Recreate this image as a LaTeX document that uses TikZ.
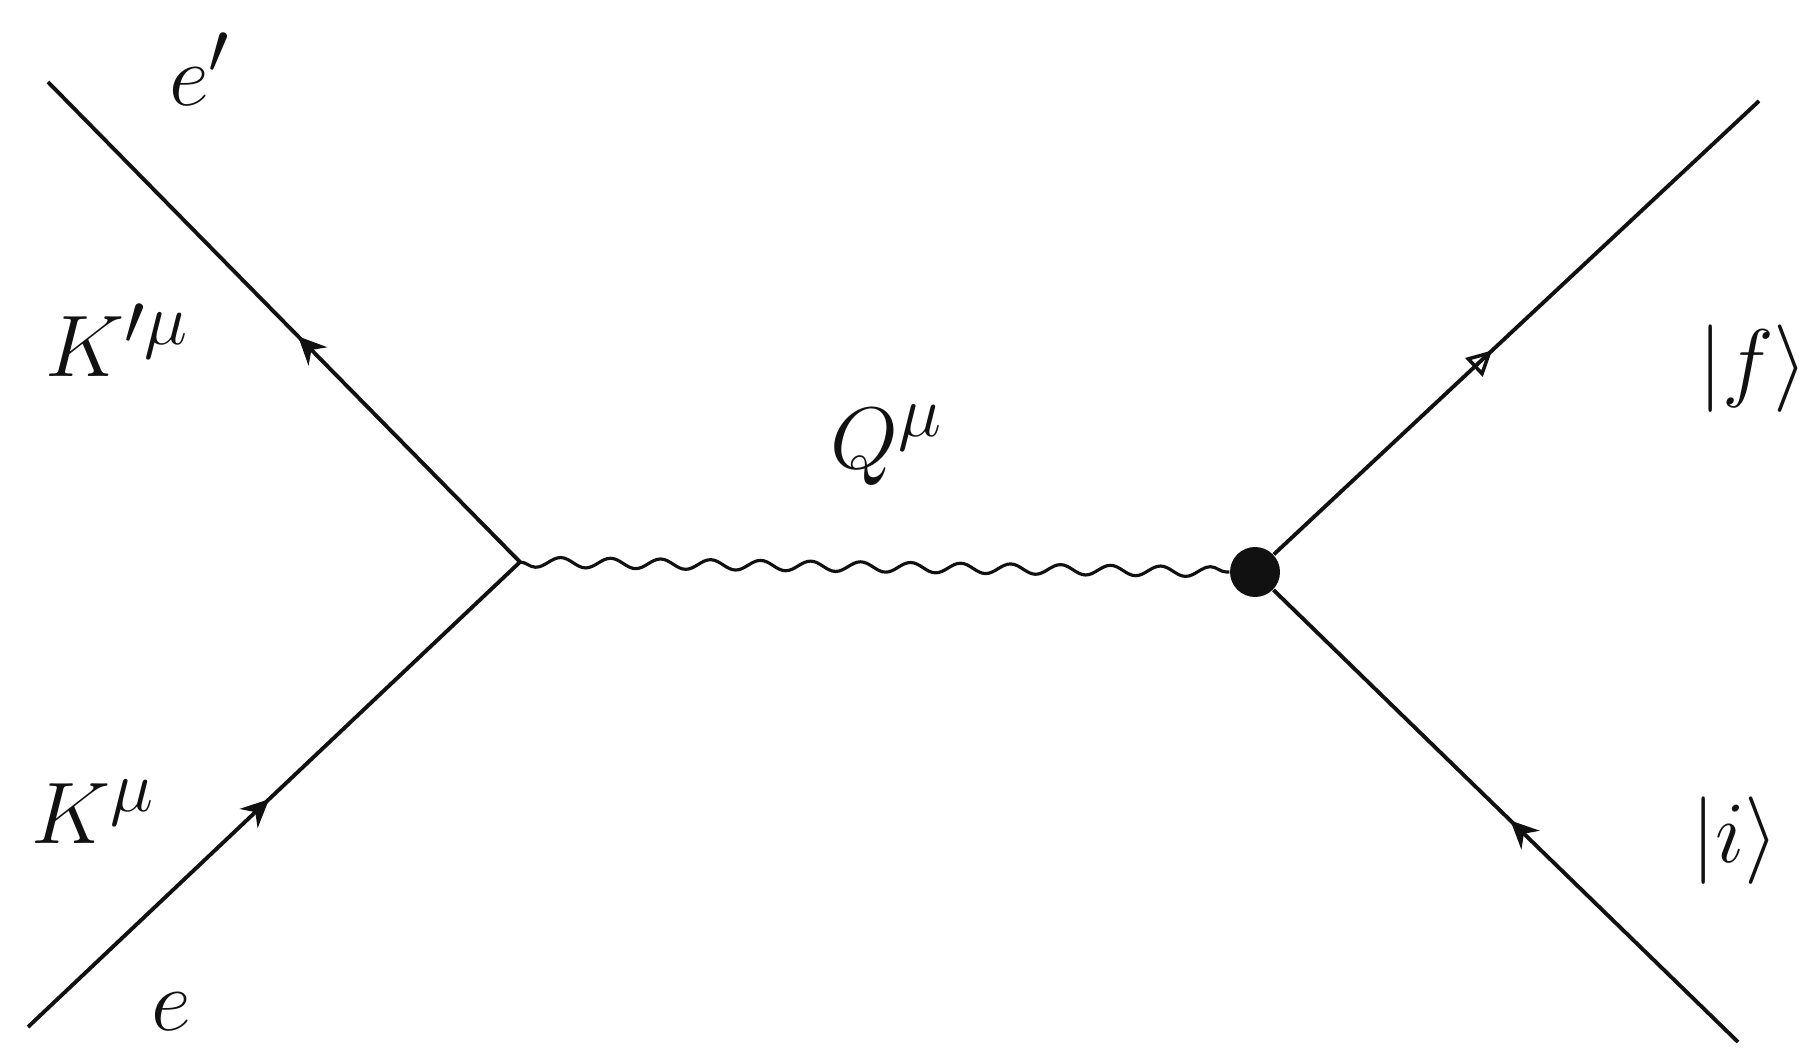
\documentclass[tikz,border=0pt]{standalone}
\usepackage{tikz}
\usetikzlibrary{arrows.meta,decorations.markings,decorations.pathmorphing}
\definecolor{Ink}{HTML}{111111}
\tikzset{
  fermionLine/.style={draw=Ink,line width=1.1pt},
  midArrow/.style={postaction={decorate},decoration={markings,
    mark=at position #1 with {\arrow{Stealth[length=2.8mm,width=2.6mm]}}}},
  openArrow/.style={postaction={decorate},decoration={markings,
    mark=at position #1 with {\arrow{Triangle[open,length=2.5mm,width=2.5mm,line width=1pt]}}}},
  photonLine/.style={draw=Ink,line width=0.9pt,decorate,
    decoration={snake,amplitude=0.5mm,segment length=5mm,mirror}},
  blob/.style={circle,fill=Ink,minimum size=5mm,inner sep=0pt},
  momLabel/.style={font=\Huge,text=Ink,inner sep=0pt}
}

\begin{document}
\begin{tikzpicture}
  \useasboundingbox (0,0) rectangle (18.05,10.62);
  \coordinate (vL) at (5.20,5.00);
  \node[blob] (vR) at (12.55,4.90) {};
  \coordinate (eOut) at (0.48,9.80);
  \coordinate (eIn) at (0.28,0.35);
  \coordinate (fOut) at (17.59,9.61);
  \coordinate (iIn) at (17.38,0.20);
  % electron side
  \draw[fermionLine,midArrow=0.49] (eIn) -- (vL);
  \draw[fermionLine,midArrow=0.47] (vL) -- (eOut);
  % virtual photon
  \draw[photonLine] (vL) -- (vR.west);
  % target side
  \draw[fermionLine,midArrow=0.49] (iIn) -- (vR);
  \draw[fermionLine,openArrow=0.45] (vR) -- (fOut);
  \node[momLabel] (ePrime) at (2.00,9.93) {$e'$};
  \node[momLabel] (kPrime) at (1.17,7.22) {$K'^{\mu}$};
  \node[momLabel] (qMom) at (8.87,6.17) {$Q^{\mu}$};
  \node[momLabel] (fState) at (17.53,6.93) {$|f\rangle$};
  \node[momLabel] (kMom) at (0.93,2.50) {$K^{\mu}$};
  \node[momLabel] (eLabel) at (1.71,0.50) {$e$};
  \node[momLabel] (iState) at (17.35,2.21) {$|i\rangle$};
\end{tikzpicture}
\end{document}
